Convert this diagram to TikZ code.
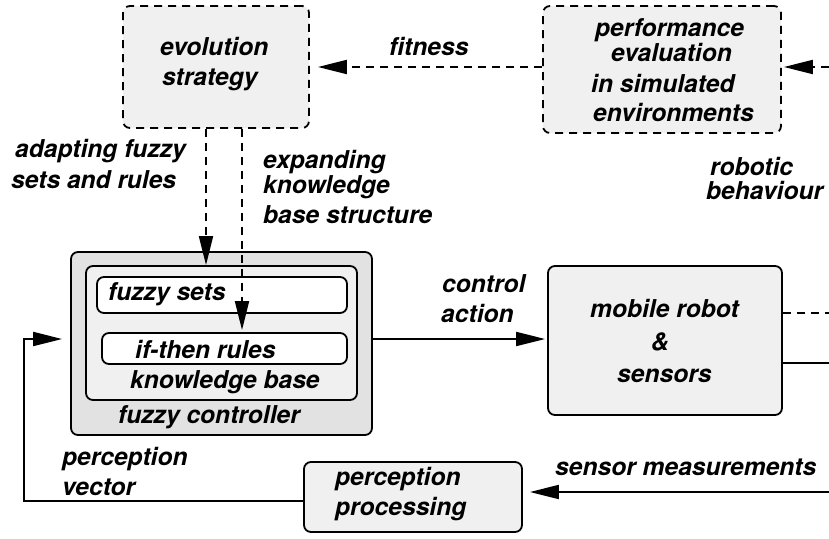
\documentclass[tikz,border=0pt]{standalone}
\usepackage{fontspec}
\setmainfont{TeX Gyre Heros}
\usetikzlibrary{arrows.meta}
\definecolor{boxfill}{RGB}{240,240,240}
\definecolor{ctrlfill}{RGB}{226,226,226}
\begin{document}
\begin{tikzpicture}[x=1pt,y=-1pt,
  lw/.style={line width=1.8pt},
  box/.style={draw, lw, rounded corners=7pt, fill=boxfill, inner sep=0pt},
  dbox/.style={box, dash pattern=on 8pt off 6pt},
  dline/.style={dash pattern=on 8pt off 6pt},
  arr/.style={-{Triangle[length=29pt,width=14pt]}},
  lbl/.style={anchor=base west, inner sep=0pt, font=\fontsize{24.6}{28}\selectfont\bfseries\itshape},
]
\useasboundingbox (0,0) rectangle (829,538);

% blocks
\node[dbox, minimum width=186pt, minimum height=122pt] (evo) at (216,67) {};
\node[dbox, minimum width=238pt, minimum height=127pt] (perf) at (662,69.5) {};
\node[box, fill=ctrlfill, minimum width=301pt, minimum height=183pt] (fc) at (221.5,343.5) {};
\node[box, minimum width=271pt, minimum height=134pt] (kb) at (221.5,333) {};
\node[box, fill=white, minimum width=250pt, minimum height=36pt] (fs) at (222,295) {};
\node[box, fill=white, minimum width=245pt, minimum height=31pt] (ifr) at (224.5,348.5) {};
\node[box, minimum width=234pt, minimum height=149pt] (robot) at (665,340.5) {};
\node[box, minimum width=218pt, minimum height=70pt] (pp) at (413,497) {};

% texts inside blocks
\node[lbl] (tEvo1) at (160,55) {evolution};
\node[lbl] (tEvo2) at (162,85) {strategy};
\node[lbl] (tPerf1) at (595,36) {performance};
\node[lbl] (tPerf2) at (611,61) {evaluation};
\node[lbl] (tPerf3) at (591,92) {in simulated};
\node[lbl] (tPerf4) at (593,121) {environments};
\node[lbl] (tFs) at (108,300) {fuzzy sets};
\node[lbl] (tIfr) at (135,358) {if-then rules};
\node[lbl] (tKb) at (130,388) {knowledge base};
\node[lbl] (tFc) at (118,423) {fuzzy controller};
\node[lbl] (tRob1) at (590,317) {mobile robot};
\node[lbl] (tRob2) at (651,350) {\&};
\node[lbl] (tRob3) at (617,382) {sensors};
\node[lbl] (tPp1) at (335,485) {perception};
\node[lbl] (tPp2) at (335,515) {processing};

% connector labels
\node[lbl] (lFit) at (389,55) {fitness};
\node[lbl] (lRob1) at (710,175) {robotic};
\node[lbl] (lRob2) at (706,199) {behaviour};
\node[lbl] (lAd1) at (15,157) {adapting fuzzy};
\node[lbl] (lAd2) at (11,188) {sets and rules};
\node[lbl] (lEx1) at (263,168) {expanding};
\node[lbl] (lEx2) at (263,193) {knowledge};
\node[lbl] (lEx3) at (263,223) {base structure};
\node[lbl] (lCa1) at (442,292) {control};
\node[lbl] (lCa2) at (441,322) {action};
\node[lbl] (lSm) at (555,475) {sensor measurements};
\node[lbl] (lPv1) at (62,465) {perception};
\node[lbl] (lPv2) at (62,495) {vector};

% free ends at the right border
\coordinate (inR) at (829,67);
\coordinate (outA) at (829,313);
\coordinate (outB) at (829,363);
\coordinate (inS) at (829,492);
\coordinate (pvc) at (24,339);

% connectors
\draw[lw, dline, arr, shorten >=8pt] (perf.west |- evo.east) -- (evo.east);
\draw[lw, dline, arr, shorten >=2pt] (inR) -- (inR -| perf.east);
\draw[lw, dline, arr] ([xshift=-10pt]evo.south) -- ([xshift=-10pt]evo.south |- kb.north);
\draw[lw, dline, arr, shorten >=2pt] ([xshift=26pt]evo.south) -- ([xshift=26pt]evo.south |- ifr.north);
\draw[lw, arr, shorten >=2pt] ([yshift=1.5pt]robot.west -| fc.east) -- ([yshift=1.5pt]robot.west);
\draw[lw, dline] ([yshift=27.5pt]robot.east) -- (outA);
\draw[lw] ([yshift=-22.5pt]robot.east) -- (outB);
\draw[lw, arr, shorten >=7pt] (inS) -- (inS -| pp.east);
\draw[lw, arr, shorten >=8pt] ([yshift=-4pt]pp.west) -| (pvc) -- (pvc -| fc.west);
\end{tikzpicture}
\end{document}
